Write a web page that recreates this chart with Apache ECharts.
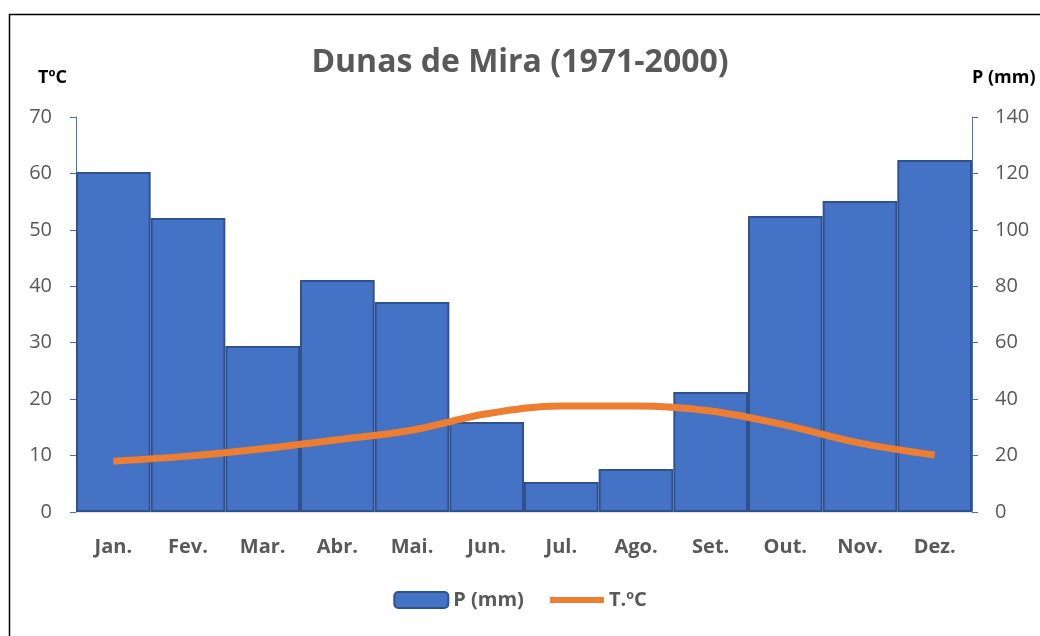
<!DOCTYPE html>
<html>
<head>
<meta charset="utf-8">
<script src="https://cdn.jsdelivr.net/npm/echarts@6/dist/echarts.min.js"></script>
<style>html,body{margin:0;padding:0;background:#fff;}#c{width:1040px;height:636px;}</style>
</head>
<body>
<div id="c"></div>
<script>
var months = ['Jan.', 'Fev.', 'Mar.', 'Abr.', 'Mai.', 'Jun.', 'Jul.', 'Ago.', 'Set.', 'Out.', 'Nov.', 'Dez.'];
var precip = [120.5, 104.2, 58.8, 82.2, 74.4, 31.9, 10.6, 15.2, 42.5, 104.9, 110.2, 124.8];
var temp = [9.0, 9.9, 11.2, 12.8, 14.5, 17.4, 18.8, 18.8, 17.9, 15.4, 12.2, 10.1];
var tempTicks = [0, 10, 20, 30, 40, 50, 60, 70];
var precipTicks = [0, 20, 40, 60, 80, 100, 120, 140];

var FONT = 'Open Sans';
var chart = echarts.init(document.getElementById('c'));
chart.setOption({
  animation: false,
  backgroundColor: '#fff',
  title: {
    text: 'Dunas de Mira (1971-2000)',
    left: 'center', top: 42,
    textStyle: { fontFamily: FONT, fontSize: 32, fontWeight: 'bold', color: '#595959' }
  },
  graphic: [{
    type: 'rect', left: 7, top: 12,
    shape: { width: 1040, height: 640 },
    style: { fill: 'none', stroke: '#000', lineWidth: 1.5 },
    silent: true
  }],
  legend: {
    bottom: 21, left: 'center',
    itemGap: 26, itemWidth: 54, itemHeight: 16,
    textStyle: { fontFamily: FONT, fontSize: 20, fontWeight: 'bold', color: '#595959' },
    data: [
      { name: 'P (mm)' },
      { name: 'T.ºC', icon: 'path://M0,0 M0,5 L54,5 L54,11 L0,11 Z M54,16' }
    ]
  },
  grid: { left: 76, right: 68, top: 117, bottom: 124 },
  xAxis: {
    type: 'category', data: months,
    axisLine: { lineStyle: { color: '#D9D9D9', width: 1.5 } },
    axisTick: { show: false },
    axisLabel: { fontFamily: FONT, fontSize: 20, fontWeight: 'bold', color: '#595959', margin: 25 }
  },
  yAxis: [{
    type: 'value', min: tempTicks[0], max: tempTicks[tempTicks.length - 1], interval: 10,
    name: 'TºC', nameLocation: 'end', nameGap: 30,
    nameTextStyle: { fontFamily: FONT, fontSize: 18, fontWeight: 'bold', color: '#000', align: 'right', padding: [0, 9, 0, 0] },
    axisLine: { show: true, lineStyle: { color: '#4472C4', width: 1 } },
    axisTick: { show: true, length: 6, lineStyle: { color: '#4472C4' } },
    splitLine: { show: false },
    axisLabel: { fontFamily: FONT, fontSize: 20, color: '#595959', margin: 24 }
  }, {
    type: 'value', min: precipTicks[0], max: precipTicks[precipTicks.length - 1], interval: 20,
    name: 'P (mm)', nameLocation: 'end', nameGap: 30,
    nameTextStyle: { fontFamily: FONT, fontSize: 18, fontWeight: 'bold', color: '#000', align: 'left' },
    axisLine: { show: true, lineStyle: { color: '#4472C4', width: 1 } },
    axisTick: { show: true, length: 6, lineStyle: { color: '#4472C4' } },
    splitLine: { show: false },
    axisLabel: { fontFamily: FONT, fontSize: 20, color: '#595959', margin: 23 }
  }],
  series: [{
    name: 'P (mm)', type: 'bar', yAxisIndex: 1, data: precip,
    barCategoryGap: '0%',
    itemStyle: { color: '#4472C4', borderColor: '#2F528F', borderWidth: 2 }
  }, {
    name: 'T.ºC', type: 'line', yAxisIndex: 0, data: temp,
    smooth: 0.35, symbol: 'none', showSymbol: false,
    lineStyle: { color: '#ED7D31', width: 7 },
    itemStyle: { color: '#ED7D31' },
    z: 5
  }]
});
</script>
</body>
</html>
